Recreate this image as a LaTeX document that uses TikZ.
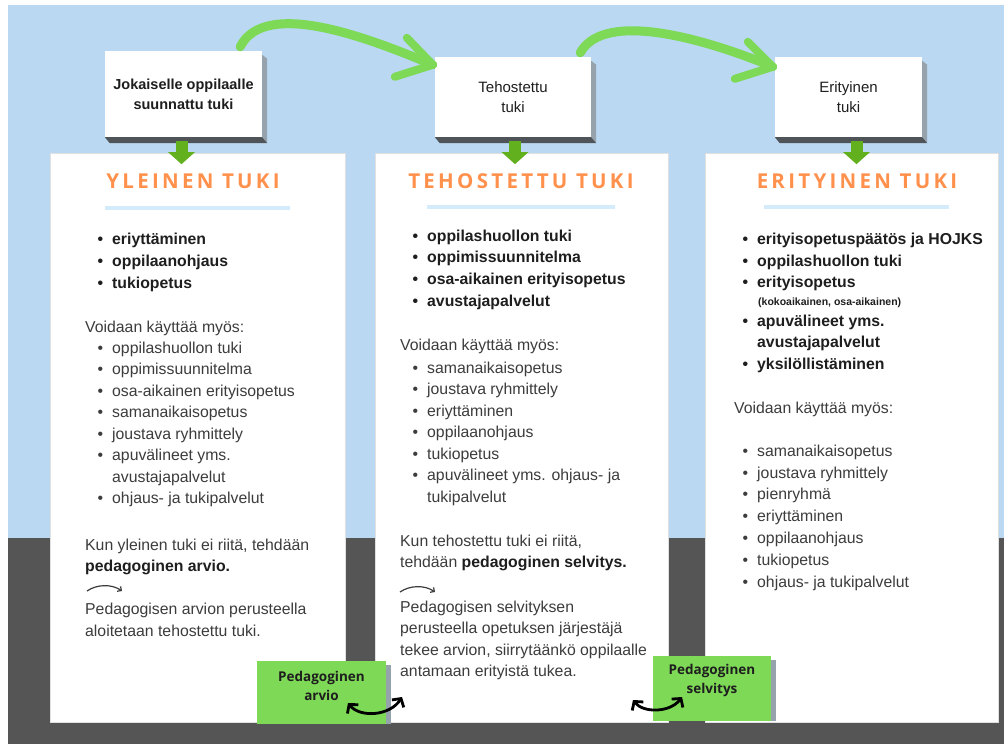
\documentclass[tikz,border=0pt]{standalone}
\usepackage{fontspec}
\setmainfont{Liberation Sans}
\newfontfamily\headfont[LetterSpace=16]{Open Sans}
\newfontfamily\tagfont{Open Sans}
\usetikzlibrary{arrows.meta,calc}
\definecolor{ink}{HTML}{1E1E1E}
\definecolor{ink2}{HTML}{3C3C3C}
\definecolor{sky}{HTML}{BAD8F2}
\definecolor{slate}{HTML}{555555}
\definecolor{tangerine}{HTML}{FF914D}
\definecolor{leaf}{HTML}{7ED957}
\definecolor{moss}{HTML}{63B01E}
\definecolor{ruleblue}{HTML}{D3EBFA}
\definecolor{sideg}{HTML}{96A2AC}
\definecolor{baseg}{HTML}{4F5458}

\begin{document}
\begin{tikzpicture}[x=1pt, y=-1pt,
  panel/.style={fill=white, draw=black!12, line width=0.6pt, minimum width=#1, minimum height=569pt, inner sep=0pt},
  topbox/.style={fill=white, minimum height=80pt, inner sep=0pt, align=center, text=ink, font=\fontsize{15}{20}\selectfont},
  headline/.style={text=tangerine, font=\headfont\fontsize{20.5}{24}\selectfont\bfseries},
  txt/.style={anchor=west, inner sep=0pt, text height=11pt, text depth=3pt, text=ink2, font=\fontsize{15.8}{19}\selectfont},
  strong/.style={txt, text=ink, font=\fontsize{15.8}{19}\selectfont\bfseries},
  bul/.style={execute at begin node={\llap{\textbullet\hspace{9pt}}}},
  greentag/.style={fill=leaf, inner sep=0pt},
  tagtxt/.style={align=center, text=ink, font=\tagfont\bfseries\fontsize{13.5}{19}\selectfont},
  drop/.style={moss, line width=12pt, -{Triangle[length=12pt,width=26pt]}},
  swoop/.style={leaf, line width=9pt, line cap=round, line join=round},
  twoway/.style={black, line width=2.8pt, {Straight Barb[length=6pt,width=14pt]}-{Straight Barb[length=6pt,width=14pt]}},
  hint/.style={ink2, line width=1.2pt, -{Straight Barb[length=3pt,width=6pt]}},
]
\useasboundingbox (0,0) rectangle (1004,744);
\fill[white] (0,0) rectangle (1004,744);
\fill[sky] (8,5) rectangle (1004,538);
\fill[slate] (8,538) rectangle (1004,744);

% three columns
\node[panel=295pt] (yle) at (197.5,437.5) {};
\node[panel=293pt] (teho) at (521.5,437.5) {};
\node[panel=293pt] (erit) at (851.5,437.5) {};

% boxes on top
\node[topbox, minimum width=157pt, minimum height=86pt, font=\fontsize{14.5}{20}\selectfont\bfseries] (jok) at (183.5,94) {Jokaiselle oppilaalle\\suunnattu tuki};
\node[topbox, minimum width=156pt] (teh) at (513,97) {Tehostettu\\tuki};
\node[topbox, minimum width=147pt] (eri) at (848.5,97) {Erityinen\\tuki};
\foreach \b in {jok,teh,eri} {
  \fill[sideg] ($(\b.north east)+(0,4)$) -- ($(\b.north east)+(5,8)$) -- ($(\b.south east)+(5,6)$) -- (\b.south east) -- cycle;
  \fill[baseg] (\b.south west) -- (\b.south east) -- ($(\b.south east)+(5,6)$) -- ($(\b.south west)+(5,6)$) -- cycle;
}
\draw[drop] ($(jok.south)+(-2,4)$) -- ($(jok.south)+(-2,27)$);
\draw[drop] ($(teh.south)+(2,4)$) -- ($(teh.south)+(2,27)$);
\draw[drop] ($(eri.south)+(8,4)$) -- ($(eri.south)+(8,27)$);

% green swoops between the boxes
\coordinate (tip1) at ($(teh.north west)+(-2,8)$);
\coordinate (tip2) at ($(eri.north west)+(-2,10)$);
\draw[swoop] ($(jok.north east)+(-22,-4)$) .. controls +(25,-50) and +(-60,-25) .. (tip1);
\draw[swoop, line width=8pt] ($(tip1)+(-26,-27)$) -- (tip1) -- ($(tip1)+(-38,12)$);
\draw[swoop] ($(teh.north east)+(-11,-4)$) .. controls +(25,-45) and +(-60,-25) .. (tip2);
\draw[swoop, line width=8pt] ($(tip2)+(-25,-25)$) -- (tip2) -- ($(tip2)+(-38,12)$);

% headings
\node[headline] (yh) at (193,181) {YLEINEN TUKI};
\node[headline] (th) at (521,181) {TEHOSTETTU TUKI};
\node[headline] (eh) at (857,181) {ERITYINEN TUKI};
\fill[ruleblue] (105,206) rectangle (290,210);
\fill[ruleblue] (427,205) rectangle (615,209);
\fill[ruleblue] (764,205) rectangle (949,209);

% yleinen tuki
\foreach \t [count=\i] in {eriyttäminen, oppilaanohjaus, tukiopetus}
  \node[strong, bul] (yb\i) at (112, 218+22*\i) {\t};
\node[txt] (yv) at (85,328) {Voidaan käyttää myös:};
\foreach \yy/\t [count=\i] in {349/oppilashuollon tuki, 370.5/oppimissuunnitelma, 392/osa-aikainen erityisopetus, 413.5/samanaikaisopetus, 435/joustava ryhmittely, 456.5/apuvälineet yms., 499.5/ohjaus- ja tukipalvelut}
  \node[txt, bul] (yl\i) at (112,\yy) {\t};
\node[txt] (yl6b) at (112,478) {avustajapalvelut};
\node[txt] (yk1) at (85,546) {Kun yleinen tuki ei riitä, tehdään};
\node[strong] (yk2) at (85,567) {pedagoginen arvio.};
\node[txt] (yk3) at (85,610) {Pedagogisen arvion perusteella};
\node[txt] (yk4) at (85,632) {aloitetaan tehostettu tuki.};
\draw[hint] (87,591) .. controls (97,584) and (112,584) .. (122,591);

% tehostettu tuki
\foreach \t [count=\i] in {oppilashuollon tuki, oppimissuunnitelma, osa-aikainen erityisopetus, avustajapalvelut}
  \node[strong, bul] (tb\i) at (427, 215.5+21.7*\i) {\t};
\node[txt] (tv) at (400,346) {Voidaan käyttää myös:};
\foreach \t [count=\i] in {samanaikaisopetus, joustava ryhmittely, eriyttäminen, oppilaanohjaus, tukiopetus, apuvälineet yms. ohjaus- ja}
  \node[txt, bul] (tl\i) at (427, 347.5+21.5*\i) {\t};
\node[txt] (tl6b) at (427,498) {tukipalvelut};
\node[txt] (tk1) at (400,542) {Kun tehostettu tuki ei riitä,};
\node[txt] (tk2) at (400,563) {tehdään \textbf{\color{ink}pedagoginen selvitys.}};
\draw[hint] (400,592) .. controls (410,585) and (425,585) .. (435,592);
\foreach \t [count=\i] in {Pedagogisen selvityksen, perusteella opetuksen järjestäjä, {tekee arvion, siirrytäänkö oppilaalle}, antamaan erityistä tukea.}
  \node[txt] (tp\i) at (400, 586.5+21.5*\i) {\t};

% erityinen tuki
\foreach \yy/\t [count=\i] in {240/erityisopetuspäätös ja HOJKS, 262/oppilashuollon tuki, 283/erityisopetus, 322/apuvälineet yms., 365/yksilöllistäminen}
  \node[strong, bul] (eb\i) at (757,\yy) {\t};
\node[strong, font=\fontsize{10.5}{12}\selectfont\bfseries] (eb3b) at (758,301) {(kokoaikainen, osa-aikainen)};
\node[strong] (eb4b) at (757,343) {avustajapalvelut};
\node[txt] (ev) at (734,409) {Voidaan käyttää myös:};
\foreach \t [count=\i] in {samanaikaisopetus, joustava ryhmittely, pienryhmä, eriyttäminen, oppilaanohjaus, tukiopetus, ohjaus- ja tukipalvelut}
  \node[txt, bul] (el\i) at (757, 430.5+21.8*\i) {\t};

% green tags at the bottom
\node[greentag, minimum width=129pt, minimum height=63pt] (arvio) at (321.5,692.5) {};
\fill[sideg] ($(arvio.north east)+(0,4)$) rectangle ($(arvio.south east)+(5,0)$);
\node[tagtxt] (arviot) at ($(arvio.center)+(0,-7)$) {Pedagoginen\\arvio};
\node[greentag, minimum width=118pt, minimum height=65pt] (selv) at (712,688.5) {};
\fill[sideg] ($(selv.north east)+(0,4)$) rectangle ($(selv.south east)+(5,0)$);
\node[tagtxt] (selvt) at ($(selv.center)+(0,-8)$) {Pedagoginen\\selvitys};
\draw[twoway] (348,703) .. controls (360,718) and (390,716) .. (402,697);
\draw[twoway] (633,700) .. controls (643,713) and (670,713) .. (682,697);
\end{tikzpicture}
\end{document}
